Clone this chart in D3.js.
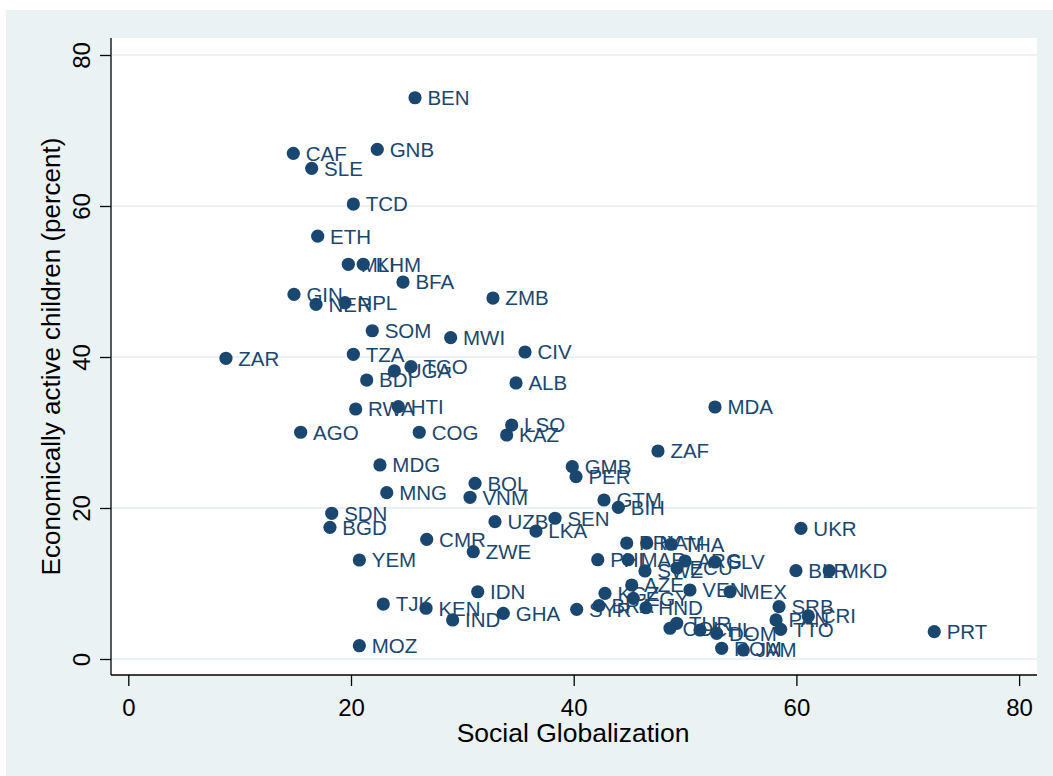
<!DOCTYPE html>
<html>
<head>
<meta charset="utf-8">
<script src="https://cdn.jsdelivr.net/npm/d3@7"></script>
<style>
  html, body { margin: 0; padding: 0; background: #ffffff; }
  svg { display: block; font-family: Arial, "Liberation Sans", sans-serif; }
</style>
</head>
<body>
<svg id="chart" width="1053" height="776"></svg>
<script>
// Country codes, social globalization index and share of economically active children
const countries = [
  "BEN","CAF","GNB","SLE","TCD","ETH","MLI","KHM","BFA","GIN","NER","NPL","ZMB","SOM","MWI","CIV",
  "ZAR","TZA","UGA","TGO","BDI","ALB","MDA","RWA","HTI","LSO","KAZ","AGO","COG","ZAF","MDG","GMB",
  "PER","BOL","MNG","VNM","GTM","BIH","SDN","BGD","UZB","SEN","LKA","UKR","CMR","ZWE","YEM","IDN",
  "TJK","KEN","IND","GHA","MOZ","SYR","PRY","NAM","THA","PHL","MAR","ARG","SLV","ECU","SWZ","AZE",
  "VEN","MEX","KGZ","EGY","BRA","HND","TUR","COL","CHL","DOM","ROM","JAM","SRB","PAN","TTO","CRI",
  "BLR","MKD","PRT"
];
const socialGlobalization = [
  25.75,14.82,22.36,16.47,20.21,17.01,19.76,21.10,24.67,14.88,16.86,19.46,32.75,21.91,28.95,35.63,
  8.77,20.21,23.89,25.39,21.41,34.82,52.69,20.42,24.25,34.43,33.98,15.48,26.13,47.57,22.60,39.87,
  40.21,31.14,23.21,30.69,42.72,44.01,18.27,18.11,32.93,38.32,36.61,60.41,26.80,30.98,20.75,31.38,
  22.90,26.74,29.13,33.68,20.75,40.27,44.76,46.56,48.74,42.16,44.88,50.00,52.69,49.28,46.40,45.21,
  50.44,54.04,42.81,45.35,42.27,46.49,49.25,48.65,51.34,52.84,53.29,55.23,58.44,58.17,58.59,61.07,
  59.96,62.95,72.38
];
const activeChildren = [
  74.34,66.98,67.51,64.99,60.26,56.00,52.28,52.28,49.93,48.30,46.98,47.19,47.81,43.48,42.56,40.66,
  39.83,40.36,38.15,38.72,36.95,36.56,33.38,33.11,33.42,30.99,29.67,30.03,30.03,27.55,25.70,25.47,
  24.15,23.27,22.03,21.42,21.06,20.09,19.30,17.44,18.19,18.64,16.95,17.31,15.85,14.21,13.11,8.91,
  7.28,6.72,5.17,6.05,1.76,6.58,15.36,15.36,15.20,13.15,13.15,12.98,12.85,12.05,11.66,9.80,
  9.14,8.91,8.70,8.04,7.06,6.79,4.73,4.07,3.84,3.40,1.42,1.19,6.93,5.17,3.93,5.70,
  11.70,11.70,3.62
];
const xTicks = [0, 20, 40, 60, 80];
const yTicks = [0, 20, 40, 60, 80];
const xTitle = "Social Globalization";
const yTitle = "Economically active children (percent)";

const points = countries.map((c, i) => ({ code: c, x: socialGlobalization[i], y: activeChildren[i] }));

const navy = "#1a476f";
const bgBlue = "#eaf2f3";
const svg = d3.select("#chart");

// Graph region and plot region
const plot = { left: 111, top: 38, right: 1037, bottom: 675 };
svg.append("rect").attr("x", 6).attr("y", 10).attr("width", 1047).attr("height", 766).attr("fill", bgBlue);
svg.append("rect").attr("x", plot.left).attr("y", plot.top)
  .attr("width", plot.right - plot.left).attr("height", plot.bottom - plot.top).attr("fill", "#ffffff");

const x = d3.scaleLinear().domain([0, 80]).range([128.3, 1019.1]);
const y = d3.scaleLinear().domain([0, 80]).range([659, 55]);

// Horizontal grid lines at the y labels
svg.append("g").selectAll("line").data(yTicks).join("line")
  .attr("x1", plot.left + 1).attr("x2", plot.right)
  .attr("y1", d => y(d)).attr("y2", d => y(d))
  .attr("stroke", bgBlue).attr("stroke-width", 2);

// Y axis
const yAxis = svg.append("g").attr("transform", `translate(${plot.left},0)`)
  .call(d3.axisLeft(y).tickValues(yTicks).tickSize(11).tickPadding(0).tickFormat(d3.format("d")));
yAxis.select(".domain").attr("d", `M0,${plot.top}V${plot.bottom}`).attr("stroke", "#000").attr("stroke-width", 1.3);
yAxis.selectAll(".tick line").attr("stroke", "#000").attr("stroke-width", 1.3);
yAxis.selectAll(".tick text")
  .attr("x", null).attr("dy", null)
  .attr("transform", "translate(-21,0) rotate(-90)")
  .attr("text-anchor", "middle").attr("fill", "#000")
  .style("font-size", "24px");

// X axis
const xAxis = svg.append("g").attr("transform", `translate(0,${plot.bottom})`)
  .call(d3.axisBottom(x).tickValues(xTicks).tickSize(11).tickPadding(0).tickFormat(d3.format("d")));
xAxis.select(".domain").attr("d", `M${plot.left},0H${plot.right}`).attr("stroke", "#000").attr("stroke-width", 1.3);
xAxis.selectAll(".tick line").attr("stroke", "#000").attr("stroke-width", 1.3);
xAxis.selectAll(".tick text")
  .attr("y", 41).attr("dy", null)
  .attr("fill", "#000").style("font-size", "24px");

// Axis titles
svg.append("text").attr("x", 573).attr("y", 742)
  .attr("text-anchor", "middle").style("font-size", "26.5px").attr("fill", "#000").text(xTitle);
svg.append("text")
  .attr("transform", `translate(60,${(plot.top + plot.bottom) / 2}) rotate(-90)`)
  .attr("text-anchor", "middle").style("font-size", "26px").attr("fill", "#000").text(yTitle);

// Marker labels to the right of each point, then the markers on top
const fs = 20.5;
svg.append("g").selectAll("text").data(points).join("text")
  .attr("x", d => x(d.x) + 12.4)
  .attr("y", d => y(d.y) + fs * 0.36)
  .attr("fill", navy).style("font-size", fs + "px")
  .text(d => d.code);

svg.append("g").selectAll("circle").data(points).join("circle")
  .attr("cx", d => x(d.x)).attr("cy", d => y(d.y)).attr("r", 6.6)
  .attr("fill", navy);
</script>
</body>
</html>
